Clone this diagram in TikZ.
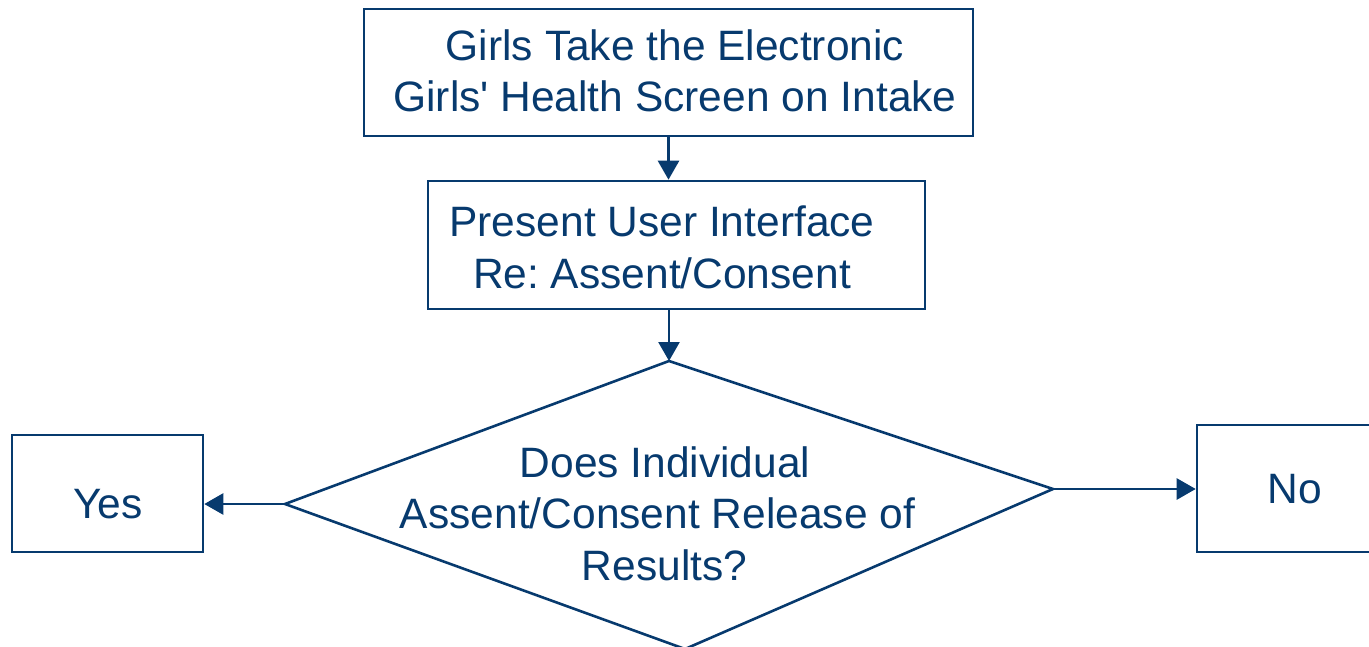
\documentclass[tikz,border=0pt]{standalone}
\usepackage{fontspec}
\setmainfont{Liberation Sans}
\usetikzlibrary{arrows.meta}
\definecolor{navy}{HTML}{073A6E}
\frenchspacing
\begin{document}
\begin{tikzpicture}[x=0.5pt,y=-0.5pt,
  every node/.style={text=navy, font=\fontsize{21.25}{25.5}\selectfont},
  box/.style={draw=navy, line width=1.3pt, inner sep=0pt, rectangle},
  txt/.style={anchor=base, inner sep=0pt},
  conn/.style={draw=navy, line width=1.3pt, -{Triangle[length=9.5pt,width=10.5pt]}},
  edge/.style={draw=navy, line width=1.3pt, line join=miter}]
\useasboundingbox (0,0) rectangle (1369,647);
% boxes
\node[box, minimum width=304.5pt, minimum height=63.5pt] (b1) at (668.5,72.5) {};
\node[box, minimum width=248.5pt, minimum height=64pt] (b2) at (676.5,245) {};
\node[box, minimum width=95.5pt, minimum height=58.5pt] (yes) at (107.5,493.5) {};
\node[box, minimum width=98pt, minimum height=63.5pt] (no) at (1295,488.5) {};
% texts
\node[txt] (t1a) at (675,61) {Girls Take the Electronic};
\node[txt] (t1b) at (675,112) {Girls\textquotesingle{} Health Screen on Intake};
\node[txt] (t2a) at (662,236) {Present User Interface};
\node[txt] (t2b) at (662,288) {Re: Assent/Consent};
\node[txt] (t3a) at (665,477) {Does Individual};
\node[txt] (t3b) at (657.5,528) {Assent/Consent Release of};
\node[txt] (t3c) at (664.5,580) {Results?};
\node[txt] (tyes) at (108,518) {Yes};
\node[txt] (tno) at (1295,503) {No};
% diamond
\coordinate (dt) at (669,361);
\coordinate (dr) at (1053,489);
\coordinate (db) at (685,649);
\coordinate (dl) at (285,504);
\draw[edge] (dt) -- (dr) -- (db) -- (dl) -- cycle;
% connectors
\draw[conn] (b1.south) -- (b1.south |- b2.north);
\draw[conn] (b2.south -| dt) -- (dt);
\draw[conn] (dl) -- (dl -| yes.east);
\draw[conn] (dr) -- (dr -| no.west);
\end{tikzpicture}
\end{document}
